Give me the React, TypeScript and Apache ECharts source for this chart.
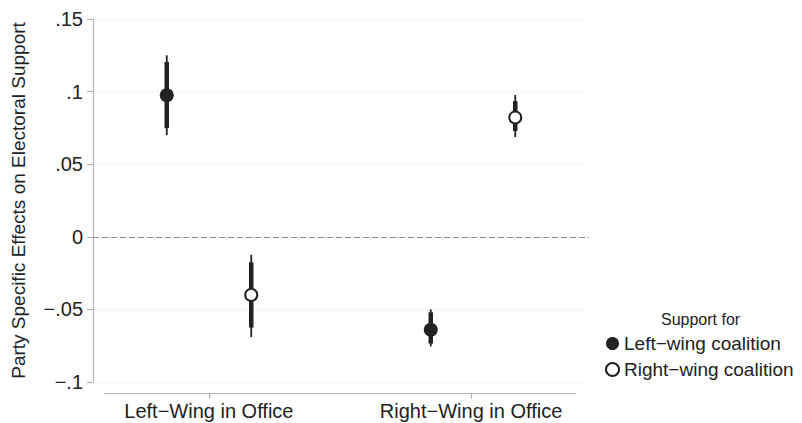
import React, { useEffect, useRef } from "react";
import * as echarts from "echarts";

// ---- Data ----
const offices = ["Left\u2212Wing in Office", "Right\u2212Wing in Office"];
const seriesNames = ["Left\u2212wing coalition", "Right\u2212wing coalition"];

const leftEst = [0.0975, -0.064];
const leftLo95 = [0.070, -0.0755];
const leftHi95 = [0.125, -0.050];
const leftLo90 = [0.0749, -0.0735];
const leftHi90 = [0.1204, -0.052];

const rightEst = [-0.040, 0.0822];
const rightLo95 = [-0.069, 0.0687];
const rightHi95 = [-0.0124, 0.0977];
const rightLo90 = [-0.0625, 0.0728];
const rightHi90 = [-0.0176, 0.0934];

const yTicks = [-0.1, -0.05, 0, 0.05, 0.1, 0.15];
const yTickLabels = ["\u2212.1", "\u2212.05", "0", ".05", ".1", ".15"];

const DODGE = 0.16;
const DARK = "#222222";
const AXIS = "#b4b4b4";
const FONT = "Liberation Sans, Arial, sans-serif";

function buildRows(est: number[], lo95: number[], hi95: number[], lo90: number[], hi90: number[], off: number) {
  return est.map((e, i) => [i + 1 + off, e, lo95[i], hi95[i], lo90[i], hi90[i]]);
}

function errorSeries(rows: number[][]) {
  return {
    type: "custom",
    xAxisIndex: 0,
    yAxisIndex: 0,
    silent: true,
    data: rows,
    encode: { x: 0, y: [2, 3] },
    renderItem: (_p: any, api: any) => {
      const x = api.value(0);
      const a = api.coord([x, api.value(2)]);
      const b = api.coord([x, api.value(3)]);
      const c = api.coord([x, api.value(4)]);
      const d = api.coord([x, api.value(5)]);
      return {
        type: "group",
        children: [
          { type: "line", shape: { x1: a[0], y1: a[1], x2: b[0], y2: b[1] }, style: { stroke: DARK, lineWidth: 1.8 } },
          { type: "line", shape: { x1: c[0], y1: c[1], x2: d[0], y2: d[1] }, style: { stroke: DARK, lineWidth: 4.5 } },
        ],
      };
    },
  };
}

export default function App() {
  const ref = useRef<HTMLDivElement>(null);
  useEffect(() => {
    if (!ref.current) return;
    const chart = echarts.init(ref.current, null, { renderer: "svg" });
    const leftRows = buildRows(leftEst, leftLo95, leftHi95, leftLo90, leftHi90, -DODGE);
    const rightRows = buildRows(rightEst, rightLo95, rightHi95, rightLo90, rightHi90, DODGE);

    const pxPerUnit = 264;
    const xMin = 1 - (209 - 93) / pxPerUnit;
    const xMax = 2 + (589 - 473) / pxPerUnit;

    chart.setOption({
      animation: false,
      backgroundColor: "#ffffff",
      textStyle: { fontFamily: FONT },
      grid: [
        { left: 93, right: 802 - 589, top: 19, bottom: 423 - 382 },
        { left: 104, right: 802 - 576, top: 392, height: 1 },
      ],
      xAxis: [
        { gridIndex: 0, type: "value", min: xMin, max: xMax, show: false, splitLine: { show: false } },
        {
          gridIndex: 1,
          type: "value",
          min: 0.6,
          max: 2.4,
          position: "bottom",
          axisLine: { show: true, lineStyle: { color: AXIS, width: 1.2 } },
          axisTick: { show: true, length: 6, customValues: [1, 2], lineStyle: { color: AXIS, width: 1.2 } },
          axisLabel: {
            show: true,
            customValues: [1, 2],
            margin: 8,
            fontSize: 20,
            color: DARK,
            fontFamily: FONT,
            formatter: (v: number) => offices[Math.round(v) - 1] ?? "",
          },
          splitLine: { show: false },
        },
      ],
      yAxis: [
        {
          gridIndex: 0,
          type: "value",
          min: -0.1,
          max: 0.15,
          interval: 0.05,
          axisLine: { show: true, lineStyle: { color: AXIS, width: 1.2 } },
          axisTick: { show: true, length: 6, lineStyle: { color: AXIS, width: 1.2 } },
          axisLabel: {
            fontSize: 20,
            color: DARK,
            margin: 10,
            fontFamily: FONT,
            formatter: (v: number) => {
              const i = yTicks.findIndex((t) => Math.abs(t - v) < 1e-6);
              return i >= 0 ? yTickLabels[i] : "";
            },
          },
          splitLine: { show: true, lineStyle: { color: "#d8d8d8", type: [1, 3], width: 1 } },
          name: "Party Specific Effects on Electoral Support",
          nameLocation: "middle",
          nameGap: 65,
          nameTextStyle: { fontSize: 19, color: DARK, fontFamily: FONT },
        },
        { gridIndex: 1, type: "value", show: false, min: 0, max: 1 },
      ],
      legend: {
        orient: "vertical",
        left: 600,
        top: 329,
        itemWidth: 13,
        itemHeight: 13,
        itemGap: 7,
        textStyle: { fontSize: 19, color: DARK, fontFamily: FONT },
        data: [
          { name: seriesNames[0], icon: "circle", itemStyle: { color: DARK } },
          { name: seriesNames[1], icon: "circle", itemStyle: { color: "#fff", borderColor: DARK, borderWidth: 2 } },
        ],
      },
      graphic: [
        {
          type: "text",
          left: 661,
          top: 311,
          style: { text: "Support for", fontSize: 16, fill: DARK, fontFamily: FONT },
        },
      ],
      series: [
        {
          ...errorSeries(leftRows),
          name: seriesNames[0],
          markLine: {
            silent: true,
            symbol: "none",
            label: { show: false },
            lineStyle: { color: "#8a8a8a", type: [6, 3], width: 1 },
            data: [{ yAxis: 0 }],
          },
        },
        { ...errorSeries(rightRows), name: seriesNames[1] },
        {
          type: "scatter",
          name: seriesNames[0],
          xAxisIndex: 0,
          yAxisIndex: 0,
          symbol: "circle",
          symbolSize: 14,
          itemStyle: { color: DARK, opacity: 1 },
          data: leftRows.map((r) => [r[0], r[1]]),
          z: 5,
        },
        {
          type: "scatter",
          name: seriesNames[1],
          xAxisIndex: 0,
          yAxisIndex: 0,
          symbol: "circle",
          symbolSize: 12,
          itemStyle: { color: "#ffffff", borderColor: DARK, borderWidth: 2, opacity: 1 },
          data: rightRows.map((r) => [r[0], r[1]]),
          z: 5,
        },
      ],
    });
    return () => chart.dispose();
  }, []);
  return <div ref={ref} style={{ width: 802, height: 423, position: "absolute", left: 0, top: 0 }} />;
}
